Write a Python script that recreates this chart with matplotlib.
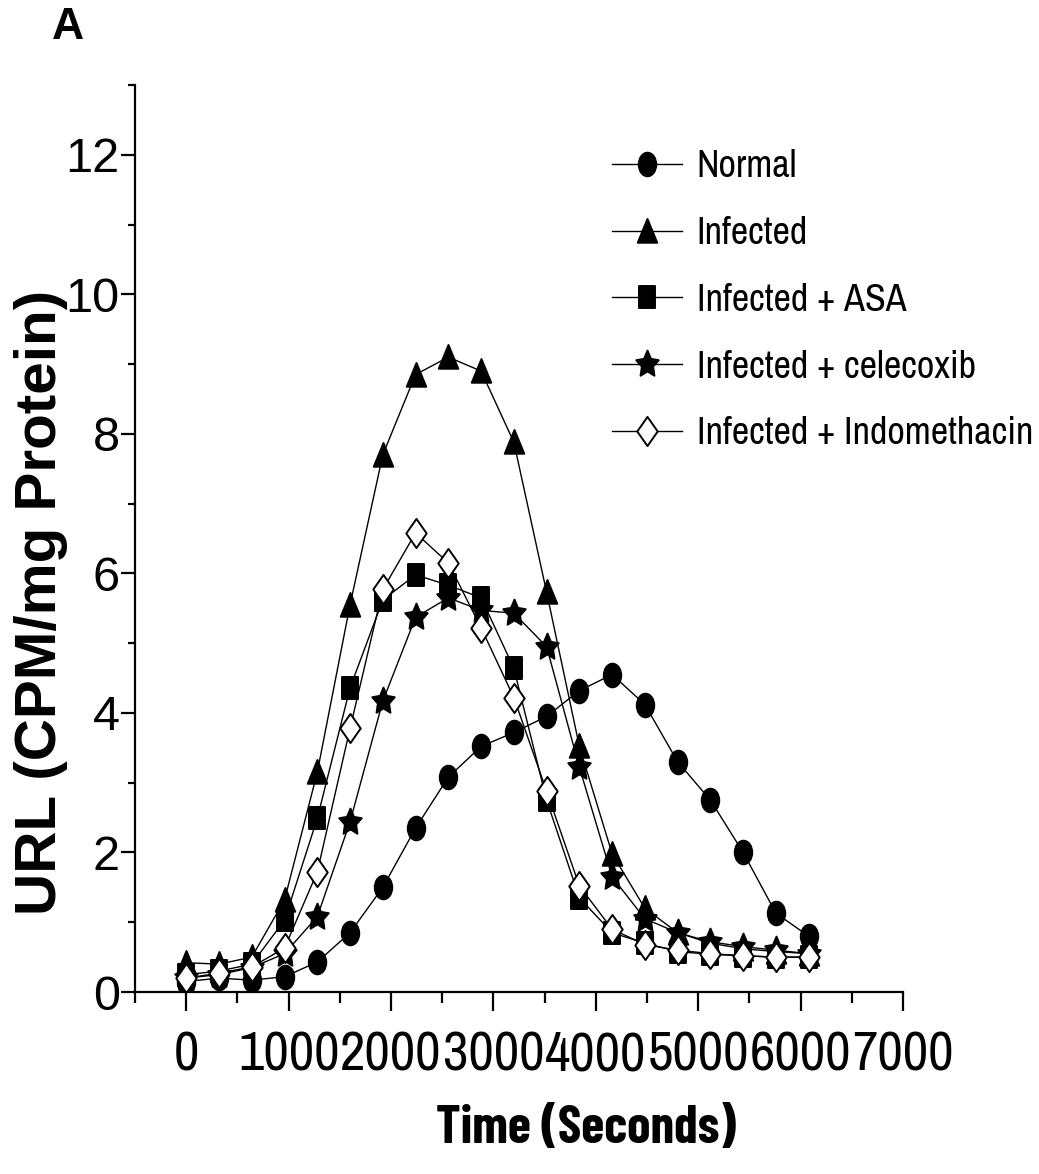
import matplotlib
matplotlib.use("Agg")
import matplotlib.pyplot as plt
from matplotlib.path import Path
from matplotlib.transforms import Affine2D
from matplotlib.ticker import MultipleLocator

time_s = [0, 320, 640, 960, 1280, 1600, 1920, 2240, 2560, 2880,
          3200, 3520, 3840, 4160, 4480, 4800, 5120, 5440, 5760, 6080]

normal = [0.15, 0.2, 0.17, 0.22, 0.43, 0.85, 1.5, 2.35, 3.08, 3.52,
          3.72, 3.95, 4.32, 4.55, 4.12, 3.3, 2.75, 2.0, 1.13, 0.8]
infected = [0.42, 0.4, 0.5, 1.32, 3.15, 5.55, 7.7, 8.85, 9.1, 8.9,
            7.88, 5.73, 3.52, 1.98, 1.2, 0.85, 0.7, 0.62, 0.58, 0.55]
asa = [0.25, 0.3, 0.4, 1.03, 2.49, 4.36, 5.62, 5.98, 5.83, 5.65,
       4.64, 2.75, 1.35, 0.85, 0.7, 0.58, 0.54, 0.52, 0.5, 0.5]
celecoxib = [0.2, 0.25, 0.35, 0.55, 1.08, 2.44, 4.17, 5.37, 5.65, 5.47,
             5.43, 4.95, 3.22, 1.65, 1.05, 0.85, 0.72, 0.65, 0.6, 0.55]
indomethacin = [0.2, 0.27, 0.36, 0.63, 1.72, 3.78, 5.77, 6.58, 6.15, 5.22,
                4.22, 2.88, 1.52, 0.9, 0.68, 0.6, 0.55, 0.52, 0.5, 0.5]

labels = ["Normal", "Infected", "Infected + ASA", "Infected + celecoxib",
          "Infected + Indomethacin"]

narrow = ["Archivo Narrow", "DejaVu Sans"]
arial = ["Liberation Sans", "DejaVu Sans"]
plt.rcParams["font.family"] = narrow


def poly(pts):
    pts = list(pts) + [pts[0]]
    codes = [Path.MOVETO] + [Path.LINETO] * (len(pts) - 2) + [Path.CLOSEPOLY]
    return Path(pts, codes)


# markers in the original are a bit taller than wide
ellipse = Path.unit_circle().transformed(Affine2D().scale(0.74, 1.0))
triangle = poly([(0, 1), (-0.78, -0.9), (0.78, -0.9)])
square = poly([(-0.72, -1), (0.72, -1), (0.72, 1), (-0.72, 1)])
star = Path.unit_regular_star(5).transformed(Affine2D().scale(0.85, 1.0))
diamond = poly([(0, 1), (0.7, 0), (0, -1), (-0.7, 0)])

fig = plt.figure(figsize=(10.39, 11.74), dpi=100)
ax = fig.add_axes([0.130, 0.155, 0.739, 0.7726])

series = [
    (normal, ellipse, "black", 17),
    (infected, triangle, "black", 18),
    (asa, square, "black", 16),
    (celecoxib, star, "black", 20),
    (indomethacin, diamond, "white", 21),
]
for (vals, m, fc, ms), lab in zip(series, labels):
    ax.plot(time_s, vals, color="black", lw=1.0, marker=m, markersize=ms,
            markerfacecolor=fc, markeredgecolor="black", markeredgewidth=1.4,
            label=lab)

ax.set_xlim(-500, 7000)
ax.set_ylim(0, 13)
ax.xaxis.set_major_locator(MultipleLocator(1000))
ax.xaxis.set_minor_locator(MultipleLocator(500))
ax.yaxis.set_major_locator(MultipleLocator(2))
ax.yaxis.set_minor_locator(MultipleLocator(1))
for s in ["top", "right"]:
    ax.spines[s].set_visible(False)
for s in ["left", "bottom"]:
    ax.spines[s].set_linewidth(1.6)
ax.tick_params(which="major", width=1.6)
ax.tick_params(which="minor", width=1.6)
ax.tick_params(axis="y", which="major", length=10, pad=1)
ax.tick_params(axis="y", which="minor", length=5)
ax.tick_params(axis="x", which="major", length=14, pad=14)
ax.tick_params(axis="x", which="minor", length=8)
for t in ax.get_yticklabels():
    t.set_fontfamily(arial)
    t.set_fontsize(35)
for t in ax.get_xticklabels():
    t.set_fontsize(40)

ax.set_xlabel("Time (Seconds)", fontsize=38, fontweight="bold",
              family=["Barlow Condensed", "DejaVu Sans"])
ax.xaxis.set_label_coords(0.587, -0.124)
ax.set_ylabel("URL (CPM/mg Protein)", fontsize=42, fontweight="bold",
              family=arial)
ax.yaxis.set_label_coords(-0.088, 0.43)

leg = ax.legend(loc="upper left", bbox_to_anchor=(0.621, 0.929),
                frameon=False, fontsize=27.5, handlelength=1.83,
                handletextpad=0.39, labelspacing=0.83, borderaxespad=0,
                borderpad=0)

fig.text(0.065, 0.977, "A", fontsize=32, fontweight="bold", family=arial,
         ha="center", va="center")

fig.savefig("out.png", dpi=100)
